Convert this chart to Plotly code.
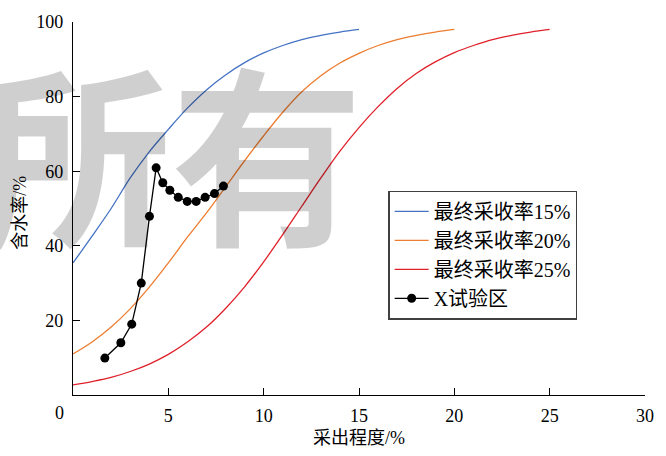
import plotly.graph_objects as go

# ---- data ----
x15 = list(range(0, 16))
y15 = [35.4, 42.6, 50.0, 58.2, 65.2, 71.2, 76.9, 81.8, 85.8, 89.1, 91.7, 93.7, 95.3, 96.4, 97.3, 98.0]

x20 = list(range(0, 21))
y20 = [11.0, 14.2, 18.2, 23.1, 28.9, 35.4, 42.3, 48.8, 55.8, 62.8, 69.5, 75.8, 81.3, 85.6, 89.0, 91.6, 93.7, 95.3, 96.4, 97.3, 98.0]

x25 = list(range(0, 26))
y25 = [2.7, 3.6, 4.7, 6.3, 8.3, 10.9, 14.2, 18.2, 23.2, 29.0, 35.7, 43.0, 50.6, 58.2, 65.4, 71.7, 77.3, 82.2, 86.2, 89.3, 91.8, 93.7, 95.3, 96.4, 97.3, 98.0]

xs = [1.67, 2.51, 3.08, 3.58, 4.01, 4.36, 4.71, 5.08, 5.52, 5.99, 6.46, 6.93, 7.42, 7.89]
ys = [9.9, 14.0, 19.0, 30.0, 47.9, 60.9, 56.9, 54.9, 53.0, 51.9, 51.9, 53.0, 54.0, 56.0]

names = ["最终采收率15%", "最终采收率20%", "最终采收率25%", "X试验区"]
colors = ["#4472C4", "#ED7D31", "#E0202A", "#000000"]

x_ticks = [5, 10, 15, 20, 25, 30]
y_ticks = [20, 40, 60, 80, 100]

FONT = "Times New Roman, Liberation Serif, Noto Sans CJK SC, serif"

fig = go.Figure()
for xv, yv, nm, c in zip([x15, x20, x25], [y15, y20, y25], names[:3], colors[:3]):
    fig.add_trace(go.Scatter(x=xv, y=yv, mode="lines", name=nm,
                             line=dict(color=c, width=1.3, shape="spline", smoothing=1.0)))
fig.add_trace(go.Scatter(x=xs, y=ys, mode="lines+markers", name=names[3],
                         line=dict(color=colors[3], width=1.3),
                         marker=dict(color=colors[3], size=9)))

fig.update_layout(
    width=666, height=456,
    margin=dict(l=72.5, r=21.4, t=21.7, b=55),
    paper_bgcolor="white", plot_bgcolor="white",
    font=dict(family=FONT, size=18, color="black"),
    showlegend=True,
    legend=dict(x=0.5515, y=0.548, xanchor="left", yanchor="top",
                bordercolor="#404040", borderwidth=1.2, bgcolor="rgba(255,255,255,0)",
                font=dict(family=FONT, size=20), tracegroupgap=0, itemwidth=34),
    xaxis=dict(range=[0, 30], tickvals=x_ticks, ticks="inside", ticklen=7, tickwidth=1.2,
               tickcolor="black", showline=True, linecolor="black", linewidth=1.3,
               showgrid=False, zeroline=False, mirror=False, ticklabelstandoff=4,
               title=dict(text="采出程度/%", font=dict(family=FONT, size=18), standoff=6)),
    yaxis=dict(range=[0, 100], tickvals=y_ticks, ticks="inside", ticklen=7, tickwidth=1.2,
               tickcolor="black", showline=True, linecolor="black", linewidth=1.3,
               showgrid=False, zeroline=False, mirror=False, ticklabelstandoff=5),
)

# y-axis title
fig.add_annotation(x=-0.0918, y=0.49, xref="paper", yref="paper", text="含水率/%",
                   textangle=-90, showarrow=False, xanchor="center", yanchor="middle",
                   font=dict(family=FONT, size=18))

fig.add_annotation(x=0, y=0, xref="x", yref="y", text="0", showarrow=False,
                   xshift=-14, yshift=-18, font=dict(family=FONT, size=18))

fig.add_annotation(x=0.172, y=0.665, xref="paper", yref="paper", text="所有",
                   showarrow=False, xanchor="center", yanchor="middle",
                   font=dict(family="Noto Sans CJK SC", size=192, weight=600,
                             color="rgba(0,0,0,0.19)"))

fig.write_html("out.html")
